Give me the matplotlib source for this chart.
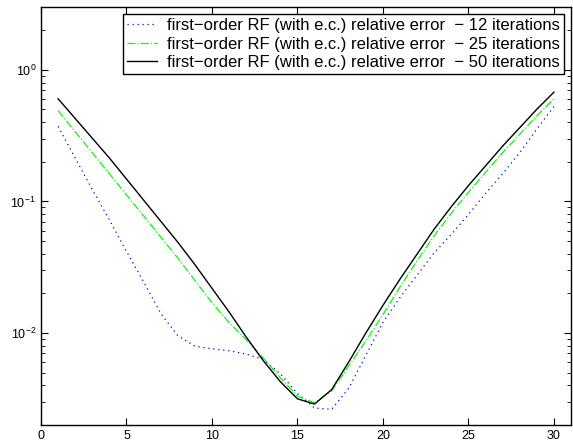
import numpy as np
import matplotlib
matplotlib.use('Agg')
import matplotlib.pyplot as plt
from matplotlib.ticker import LogLocator, NullFormatter, MultipleLocator

plt.rcParams['font.family'] = ['Liberation Sans', 'DejaVu Sans']
plt.rcParams['mathtext.fontset'] = 'custom'
plt.rcParams['mathtext.rm'] = 'Liberation Sans'

# data (log10 of relative error)
x = np.arange(1, 31)
log_err_12 = [-0.43, -0.67, -0.91, -1.14, -1.38, -1.61, -1.85, -2.02, -2.10, -2.12,
              -2.135, -2.16, -2.20, -2.31, -2.46, -2.57, -2.58, -2.42, -2.17, -1.92,
              -1.73, -1.56, -1.39, -1.25, -1.10, -0.94, -0.79, -0.63, -0.45, -0.28]
log_err_25 = [-0.31, -0.47, -0.63, -0.79, -0.95, -1.11, -1.27, -1.43, -1.60, -1.77,
              -1.92, -2.05, -2.19, -2.34, -2.48, -2.53, -2.44, -2.25, -2.06, -1.86,
              -1.65, -1.45, -1.26, -1.09, -0.93, -0.78, -0.63, -0.49, -0.35, -0.22]
log_err_50 = [-0.22, -0.37, -0.52, -0.67, -0.83, -0.99, -1.15, -1.31, -1.48, -1.66,
              -1.84, -2.03, -2.21, -2.37, -2.50, -2.54, -2.43, -2.22, -2.00, -1.79,
              -1.59, -1.40, -1.21, -1.04, -0.88, -0.73, -0.58, -0.44, -0.30, -0.17]
labels = ['first\u2212order RF (with e.c.) relative error  \u2212 12 iterations',
          'first\u2212order RF (with e.c.) relative error  \u2212 25 iterations',
          'first\u2212order RF (with e.c.) relative error  \u2212 50 iterations']

fig = plt.figure(figsize=(5.73, 4.45), dpi=100)
ax = fig.add_axes([41/573, 20/445, 530/573, 418/445])

ax.semilogy(x, 10**np.array(log_err_12), linestyle=(0, (1, 3)), color='blue', lw=0.9, label=labels[0])
ax.semilogy(x, 10**np.array(log_err_25), '-.', color='#00ff00', lw=0.9, label=labels[1])
ax.semilogy(x, 10**np.array(log_err_50), '-', color='black', lw=1.0, label=labels[2])

ax.set_xlim(0, 31)
ax.set_ylim(0.002, 3)
ax.xaxis.set_major_locator(MultipleLocator(5))
ax.yaxis.set_major_locator(LogLocator(base=10, numticks=10))
ax.yaxis.set_minor_locator(LogLocator(base=10, subs=np.arange(2, 10), numticks=10))
ax.yaxis.set_minor_formatter(NullFormatter())

ax.tick_params(which='both', direction='in', top=True, right=True, labelsize=9)
ax.tick_params(which='major', length=5, width=0.8)
ax.tick_params(which='minor', length=3, width=0.6)
for s in ax.spines.values():
    s.set_linewidth(1.0)

leg = ax.legend(loc='upper right', fontsize=12, fancybox=False, framealpha=1,
                edgecolor='black', borderaxespad=0.4, handlelength=1.8,
                handletextpad=0.6, labelspacing=0.22, borderpad=0.25)
leg.get_frame().set_linewidth(1.0)

fig.savefig('out.png', dpi=100)
